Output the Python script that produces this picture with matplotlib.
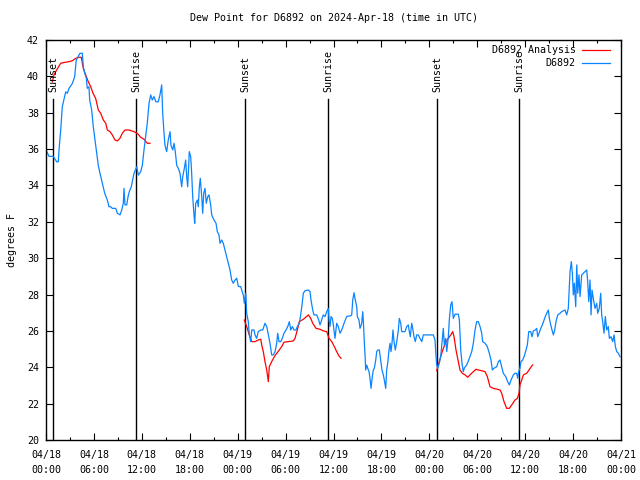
import numpy as np
import matplotlib
matplotlib.use("Agg")
import matplotlib.pyplot as plt
from matplotlib.ticker import MultipleLocator

# ---------------- data (hours since 2024-04-18 00:00 UTC, dew point in F) -----
obs_hours = [0.09, 0.38, 0.91, 1.34, 1.54, 1.63, 1.84, 2.04, 2.34, 2.47, 2.67, 2.88, 3.29, 3.59, 3.79,
             4.01, 4.26, 4.55, 4.67, 4.85, 5.05, 5.17, 5.38, 5.47, 5.72, 5.92, 6.14, 6.35, 6.55, 6.76,
             7.05, 7.35, 7.68, 7.89, 8.10, 8.30, 8.73, 8.93, 9.27, 9.48, 9.68, 9.77, 9.89, 10.11, 10.27,
             10.43, 10.68, 11.02, 11.36, 11.56, 11.86, 12.06, 12.27, 12.48, 12.68, 12.90, 13.11, 13.31,
             13.52, 13.77, 14.06, 14.28, 14.49, 14.61, 14.78, 14.90, 15.11, 15.31, 15.53, 15.65, 15.87,
             16.03, 16.19, 16.37, 16.57, 16.78, 16.99, 17.12, 17.32, 17.49, 17.62, 17.74, 17.87, 17.94,
             18.12, 18.24, 18.37, 18.53, 18.62, 18.75, 18.95, 19.07, 19.20, 19.32, 19.50, 19.62, 19.75,
             19.91, 20.07, 20.25, 20.41, 20.62, 20.75, 21.04, 21.29, 21.45, 21.66, 21.79, 22.00, 22.20,
             22.41, 22.63, 22.83, 23.04, 23.25, 23.45, 23.67, 23.88, 24.08, 24.38, 24.63, 24.71, 24.83,
             25.01, 25.13, 25.33, 25.46, 25.63, 25.76, 26.05, 26.17, 26.38, 26.58, 26.89, 27.14, 27.42,
             27.64, 27.84, 28.05, 28.26, 28.46, 28.68, 28.89, 29.01, 29.18, 29.39, 29.59, 29.80, 30.05,
             30.27, 30.47, 30.64, 30.84, 31.05, 31.31, 31.47, 31.72, 31.89, 32.06, 32.22, 32.43, 32.85,
             33.06, 33.18, 33.40, 33.56, 33.90, 34.15, 34.31, 34.52, 34.72, 34.94, 35.15, 35.35, 35.44,
             35.56, 35.69, 35.85, 35.98, 36.19, 36.40, 36.60, 36.82, 37.03, 37.32, 37.65, 37.85, 38.07,
             38.28, 38.41, 38.57, 38.69, 38.91, 38.98, 39.19, 39.32, 39.53, 39.66, 39.73, 39.86, 39.95,
             40.03, 40.16, 40.28, 40.45, 40.57, 40.70, 40.86, 40.99, 41.11, 41.29, 41.41, 41.54, 41.74,
             41.91, 42.07, 42.24, 42.36, 42.54, 42.66, 42.79, 42.95, 43.08, 43.20, 43.33, 43.45, 43.58,
             43.74, 43.92, 44.12, 44.24, 44.42, 44.54, 44.95, 45.17, 45.37, 45.49, 45.62, 45.79, 45.92,
             46.08, 46.24, 46.42, 46.62, 46.83, 47.05, 47.25, 48.50, 48.71, 48.84, 48.92, 49.05, 49.25,
             49.42, 49.59, 49.75, 49.88, 50.05, 50.18, 50.38, 50.50, 50.68, 50.84, 51.00, 51.22, 51.63,
             51.76, 51.93, 52.09, 52.25, 52.38, 52.68, 53.01, 53.31, 53.51, 53.72, 53.93, 54.13, 54.35,
             54.56, 54.68, 54.97, 55.26, 55.51, 55.72, 55.89, 56.10, 56.44, 56.64, 56.85, 57.06, 57.26,
             57.56, 57.81, 58.02, 58.23, 58.52, 58.73, 58.94, 59.07, 59.19, 59.35, 59.48, 59.69, 59.89,
             60.11, 60.27, 60.45, 60.70, 60.86, 61.02, 61.27, 61.45, 61.57, 61.74, 61.95, 62.15, 62.36,
             62.52, 62.70, 62.90, 63.03, 63.20, 63.36, 63.53, 63.70, 63.86, 64.08, 64.36, 64.58, 64.99,
             65.20, 65.40, 65.62, 65.78, 65.91, 66.03, 66.16, 66.33, 66.46, 66.58, 66.74, 66.87, 67.08,
             67.28, 67.49, 67.71, 67.83, 67.96, 68.12, 68.25, 68.37, 68.53, 68.75, 68.96, 69.08, 69.28,
             69.46, 69.58, 69.71, 69.87, 70.04, 70.21, 70.41, 70.54, 70.75, 70.96, 71.13, 71.29, 71.47,
             71.67, 71.88]
obs_dewpt = [35.86, 35.6, 35.6, 35.3, 35.3, 35.95, 37.05, 38.33, 38.9, 39.15, 39.07, 39.34, 39.6, 39.98, 40.9,
             41.08, 41.27, 41.27, 40.53, 40.17, 39.9, 39.34, 39.43, 38.7, 38.15, 37.23, 36.5, 35.77, 35.1, 34.67,
             34.12, 33.57, 33.2, 32.83, 32.83, 32.74, 32.74, 32.47, 32.38, 32.65, 33.02, 33.84, 32.93, 32.93, 33.38,
             33.66, 33.93, 34.67, 35.03, 34.57, 34.76, 35.1, 35.95, 36.68, 37.42, 38.52, 38.98, 38.7,
             38.89, 38.6, 38.6, 39.0, 39.53, 37.97, 36.87, 36.2, 35.86, 36.5, 36.96, 36.2, 35.95,
             36.32, 35.86, 35.1, 34.94, 34.67, 33.93, 34.48, 34.94, 35.4, 34.48, 33.93, 35.1, 35.86,
             35.58, 34.67, 33.38, 32.38, 31.92, 33.02, 33.2, 32.83, 33.93, 34.39, 33.38, 32.47, 33.57,
             33.84, 33.02, 33.38, 33.48, 32.93, 32.38, 32.1, 31.92, 31.46, 31.28, 30.82, 31.0, 30.82,
             30.45, 30.08, 29.72, 29.35, 28.8, 28.62, 28.8, 28.9, 28.44, 28.44, 28.07, 27.98, 27.52,
             28.07, 26.97, 26.51, 25.78, 25.41, 26.05, 26.05, 25.78, 25.59, 25.96, 26.05, 26.05, 26.42,
             26.24, 25.78, 25.32, 24.68, 24.68, 24.86, 25.32, 25.87, 25.41, 25.41, 25.59, 25.87, 26.05,
             26.24, 26.51, 26.05, 26.24, 26.05, 26.05, 26.24, 26.42, 26.88, 27.43, 28.07, 28.21, 28.25,
             28.16, 27.7, 27.15, 26.88, 26.88, 26.6, 26.33, 26.6, 26.88, 26.79, 27.06, 27.24, 26.6,
             26.24, 26.79, 26.69, 26.33, 25.59, 26.42, 26.24, 25.87, 26.05, 26.42, 26.79, 26.82, 26.82,
             26.88, 27.7, 28.1, 27.79, 27.33, 26.79, 26.6, 26.14, 26.42, 27.06, 26.6, 25.35, 24.68,
             23.85, 24.12, 23.95, 23.76, 23.39, 22.84, 23.49, 23.85, 23.95, 24.4, 24.86, 24.95, 24.95,
             24.4, 23.85, 23.58, 23.3, 22.84, 23.85, 24.22, 24.95, 25.32, 24.86, 25.35, 26.05, 25.41,
             24.95, 25.41, 26.05, 26.69, 26.42, 25.96, 25.96, 26.24, 26.33, 25.96, 25.68, 26.42, 26.14,
             25.68, 25.41, 25.78, 25.78, 25.59, 25.41, 25.78, 25.78, 25.5, 24.58, 24.13, 23.95, 24.22,
             24.58, 25.41, 26.14, 25.23, 25.59, 24.86, 25.68, 26.6, 27.43, 27.61, 26.69, 26.92, 26.92,
             26.6, 24.95, 24.22, 23.76, 23.95, 24.13, 24.49, 24.86, 25.32, 26.05, 26.51, 26.51, 26.24,
             25.87, 25.41, 25.32, 25.14, 24.77, 24.4, 23.85, 23.95, 24.03, 24.31, 24.4, 24.03, 23.67,
             23.49, 23.21, 23.03, 23.3, 23.58, 23.67, 23.67, 23.39, 23.76, 23.95, 24.31, 24.4, 24.62,
             24.95, 25.23, 25.96, 25.96, 25.68, 26.0, 26.05, 26.14, 25.68, 25.87, 26.14, 26.33, 26.6,
             26.79, 26.97, 27.15, 26.69, 26.33, 26.05, 25.78, 26.05, 26.51, 26.88, 26.97, 27.06, 27.15,
             26.88, 27.24, 29.26, 29.81, 29.17, 27.98, 28.62, 27.33, 29.63, 28.07, 29.08, 27.89, 29.08,
             29.17, 29.26, 29.35, 28.71, 27.61, 28.8, 26.88, 28.25, 27.79, 27.24, 27.52, 26.97, 27.24,
             28.07, 26.88, 26.51, 25.87, 26.79, 26.05, 26.24, 25.59, 25.68, 25.41, 25.78, 25.14, 24.86,
             24.77, 24.58]

nan = float("nan")
ana_hours = [0.79, 1.00, 1.34, 1.84, 2.25, 2.88, 3.29, 3.72, 4.13, 4.42, 4.67, 4.97, 5.30, 5.60, 5.89,
             6.22, 6.55, 6.85, 7.18, 7.48, 7.68, 8.01, 8.30, 8.64, 8.93, 9.27, 9.55, 9.89, 10.39, 11.02,
             11.52, 11.86, 12.27, 12.68, 13.02, nan,
             24.83, 25.13, 25.46, 25.76, 26.17, 26.58, 26.89, 27.01, 27.21, 27.42, 27.64, 27.84, 27.96,
             28.26, 28.59, 28.89, 29.21, 29.52, 29.80, 30.34, 30.97, 31.18, 31.47, 31.72, 32.22, 32.52,
             32.85, 33.15, 33.40, 33.81, 34.31, 34.72, 35.15, 35.44, 35.78, 36.10, 36.40, 36.69, 36.94, nan,
             48.92, 49.12, 49.42, 49.75, 50.09, 50.38, 50.68, 50.93, 51.09, 51.34, 51.63, 51.84, 52.13,
             52.47, 52.81, 53.09, 53.51, 53.85, 54.13, 54.56, 54.97, 55.26, 55.60, 56.01, 56.44, 56.85,
             57.06, 57.35, 57.69, 58.02, 58.32, 58.73, 59.02, 59.23, 59.35, 59.57, 59.77, 60.19, 60.48,
             60.82, 60.94]
ana_dewpt = [39.7, 40.08, 40.35, 40.72, 40.76, 40.81, 40.86, 40.99, 41.05, 41.05, 40.44, 40.08, 39.7, 39.43, 39.07,
             38.79, 38.15, 37.97, 37.6, 37.42, 37.05, 36.96, 36.78, 36.5, 36.45, 36.6, 36.87, 37.05, 37.05, 36.96,
             36.83, 36.65, 36.54, 36.32, 36.32, nan,
             26.6, 26.24, 25.78, 25.41, 25.41, 25.5, 25.54, 25.23, 24.86, 24.31, 23.85, 23.21, 24.03,
             24.31, 24.58, 24.77, 24.95, 25.14, 25.38, 25.41, 25.45, 25.59, 26.05, 26.51, 26.64, 26.75,
             26.88, 26.69, 26.42, 26.14, 26.09, 26.0, 25.96, 25.59, 25.41, 25.14, 24.86, 24.62, 24.49, nan,
             23.81, 24.13, 24.58, 25.04, 25.41, 25.59, 25.78, 25.96, 25.68, 24.95, 24.31, 23.85, 23.67,
             23.58, 23.45, 23.58, 23.76, 23.89, 23.85, 23.81, 23.76, 23.49, 22.93, 22.84, 22.8, 22.75,
             22.57, 22.11, 21.74, 21.74, 21.93, 22.2, 22.29, 22.57, 23.03, 23.3, 23.58, 23.67, 23.85,
             24.07, 24.13]

sun_event_hours = [0.91, 11.31, 24.96, 35.35, 49.0, 59.27]
sun_event_labels = ["Sunset", "Sunrise", "Sunset", "Sunrise", "Sunset", "Sunrise"]

xtick_hours = [0, 6, 12, 18, 24, 30, 36, 42, 48, 54, 60, 66, 72]
xtick_labels = ["04/18\n00:00", "04/18\n06:00", "04/18\n12:00", "04/18\n18:00",
                "04/19\n00:00", "04/19\n06:00", "04/19\n12:00", "04/19\n18:00",
                "04/20\n00:00", "04/20\n06:00", "04/20\n12:00", "04/20\n18:00",
                "04/21\n00:00"]
series_names = ["D6892 Analysis", "D6892"]
title = "Dew Point for D6892 on 2024-Apr-18 (time in UTC)"
ylabel = "degrees F"

# ---------------- figure ----------------
FONT = "DejaVu Sans Mono"
FS = 7.2
plt.rcParams["font.family"] = [FONT, "DejaVu Sans"]

fig = plt.figure(figsize=(6.4, 4.8), dpi=100)
ax = fig.add_axes([46 / 640, 40 / 480, 575 / 640, 400 / 480])

ax.set_xlim(0, 72)
ax.set_ylim(20, 42)

# sunrise / sunset markers
line_top = 38.75
for h, lab in zip(sun_event_hours, sun_event_labels):
    ax.plot([h, h], [20, line_top], color="black", lw=1.0, zorder=1)
    ax.text(h, 39.12, lab, rotation=90, ha="center", va="bottom",
            fontsize=FS, family=FONT, zorder=3)

red = "#ff0000"
blue = "#0a84ff"
ax.plot(ana_hours, ana_dewpt, color=red, lw=0.9, zorder=2)
ax.plot(obs_hours, obs_dewpt, color=blue, lw=0.9, zorder=2)

# legend (gnuplot style: right-aligned text, sample on the right)
for i, (name, col) in enumerate(zip(series_names, [red, blue])):
    yy = 0.975 - i * 0.0325
    ax.text(0.921, yy, name, transform=ax.transAxes, ha="right", va="center",
            fontsize=FS, family=FONT, zorder=4)
    ax.plot([0.932, 0.981], [yy, yy], transform=ax.transAxes, color=col, lw=0.9,
            clip_on=False, zorder=4)

# ticks
ax.set_xticks(xtick_hours)
ax.set_xticklabels(xtick_labels, fontsize=FS, family=FONT, linespacing=1.6)
ax.xaxis.set_minor_locator(MultipleLocator(3))
ax.set_yticks(np.arange(20, 43, 2))
ax.set_yticklabels([str(v) for v in range(20, 43, 2)], fontsize=FS, family=FONT)
ax.tick_params(axis="both", which="major", direction="in", length=5, width=0.8,
               top=True, right=True, pad=5)
ax.tick_params(axis="x", which="major", pad=7)
ax.tick_params(axis="x", which="minor", direction="in", length=2.5, width=0.8,
               top=True, bottom=True)
for s in ax.spines.values():
    s.set_linewidth(1.0)

ax.set_title(title, fontsize=FS, family=FONT, pad=14)
ax.set_ylabel(ylabel, fontsize=FS, family=FONT, labelpad=7)

fig.savefig("out.png", dpi=100)
